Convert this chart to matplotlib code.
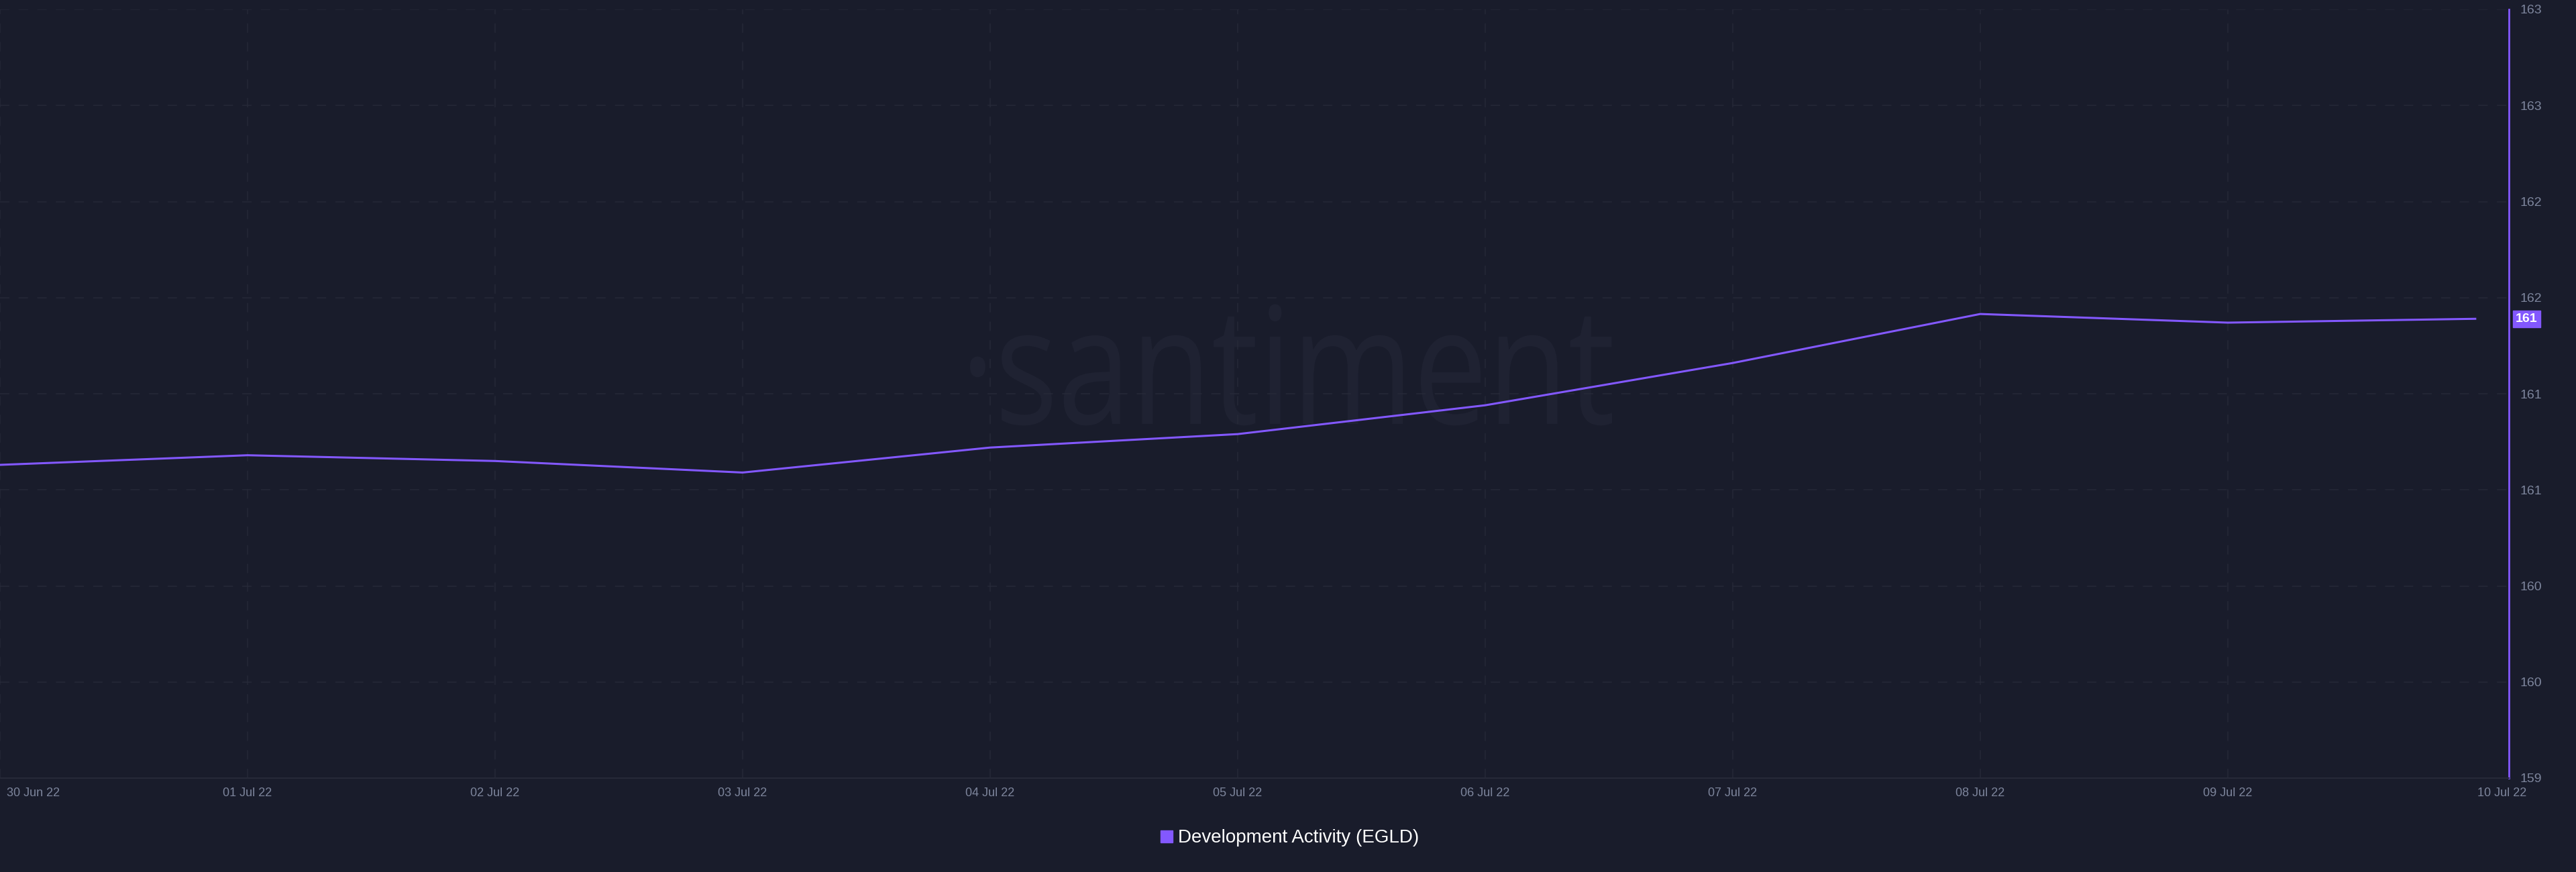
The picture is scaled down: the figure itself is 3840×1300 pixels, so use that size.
import numpy as np
import matplotlib
matplotlib.use("Agg")
import matplotlib.pyplot as plt
import matplotlib.dates as mdates
import matplotlib.transforms as mtransforms
from matplotlib.lines import Line2D
from matplotlib.ticker import FuncFormatter
from matplotlib.textpath import TextPath
from matplotlib.patches import PathPatch
from matplotlib.font_manager import FontProperties
import datetime as dt

# daily development activity, 30 Jun -> 10 Jul 2022
dates = [dt.datetime(2022, 6, 30) + dt.timedelta(days=i) for i in range(11)]
dev_activity = [160.63, 160.68, 160.65, 160.59, 160.72, 160.79,
                160.94, 161.16, 161.415, 161.37, 161.39]
y_ticks = [159, 159.5, 160, 160.5, 161, 161.5, 162, 162.5, 163]
series_name = "Development Activity (EGLD)"

bg = "#191c2b"
purple = "#8358ff"
grid_c = "#262938"
txt_c = "#7d859c"

plt.rcParams['font.family'] = ['Liberation Sans', 'DejaVu Sans']
plt.rcParams['lines.scale_dashes'] = False

fig = plt.figure(figsize=(38.4, 13), dpi=100, facecolor=bg)
ax = fig.add_axes([0, 1 - 1160 / 1300, 3740 / 3840, (1160 - 14) / 1300])
ax.set_facecolor(bg)

# condensed watermark, drawn as a path in pixel space
tp = TextPath((0, 0), "\u00b7santiment", size=1, prop=FontProperties(family=["Open Sans", "DejaVu Sans"]))
bb = tp.get_extents()
sy = 243
sx = 957 / bb.width
wm = PathPatch(tp, transform=mtransforms.Affine2D().scale(sx, sy).translate(1446 - bb.x0 * sx, 668),
               fc="#1f2232", ec="none", zorder=0.2)
ax.add_artist(wm)

ax.plot(dates, dev_activity, color=purple, lw=2.2, zorder=3)

ax.set_ylim(159, 163)
ax.set_xlim(dates[0], dates[-1] + dt.timedelta(days=0.136))
ax.set_yticks(y_ticks)
ax.yaxis.set_major_formatter(FuncFormatter(lambda v, p: "%d" % int(np.floor(v + 0.5))))
ax.set_xticks(dates)
ax.xaxis.set_major_formatter(mdates.DateFormatter("%d %b %y"))

ax.yaxis.tick_right()
ax.tick_params(axis="y", length=0, pad=12, labelsize=14, labelcolor=txt_c)
ax.tick_params(axis="x", length=0, pad=10, labelsize=13, labelcolor=txt_c)

ax.grid(True, color=grid_c, lw=1.1, ls=(0, (10, 10)))
ax.xaxis.get_gridlines()[-1].set_visible(False)
for s in ["left", "top"]:
    ax.spines[s].set_visible(False)
ax.spines["right"].set_color(purple)
ax.spines["right"].set_linewidth(2)
ax.spines["bottom"].set_color(grid_c)
ax.spines["bottom"].set_linewidth(1.5)

# first/last date labels nudged like the source
xl = ax.get_xticklabels()
xl[0].set_horizontalalignment("left")
xl[0].set_transform(xl[0].get_transform() + mtransforms.ScaledTranslation(0.1, 0, fig.dpi_scale_trans))
xl[-1].set_transform(xl[-1].get_transform() + mtransforms.ScaledTranslation(0.4, 0, fig.dpi_scale_trans))

# last value badge
ax.annotate("%d" % int(round(dev_activity[-1])), xy=(1, dev_activity[-1]),
            xycoords=("axes fraction", "data"), xytext=(10, 0), textcoords="offset pixels",
            ha="left", va="center", fontsize=14, color="white", weight="bold",
            bbox=dict(boxstyle="square,pad=0.2", fc=purple, ec=purple))

handle = Line2D([], [], marker="s", color=purple, ls="none", markersize=12.5)
leg = fig.legend([handle], [series_name], loc="center", bbox_to_anchor=(0.5, 0.039),
                 frameon=False, fontsize=20, handletextpad=0.1, handlelength=1)
for t in leg.get_texts():
    t.set_color("white")

fig.savefig("out.png", dpi=100, facecolor=bg)
